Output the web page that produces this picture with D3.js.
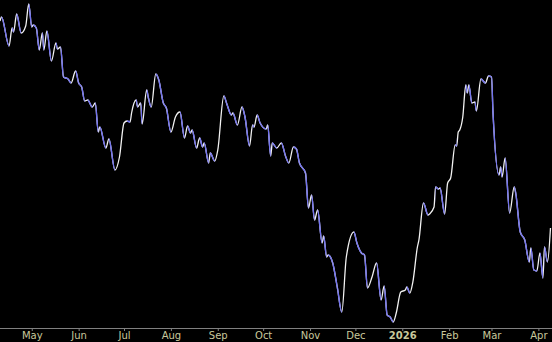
<!DOCTYPE html>
<meta charset="utf-8">
<style>
  body { margin: 0; background: #000; }
  svg { display: block; }
  .tick text { font: 10px "DejaVu Sans", sans-serif; fill: #c8c89c; }
  .tick text.year { font-weight: bold; }
</style>
<body>
<script src="https://cdn.jsdelivr.net/npm/d3@7"></script>
<script>
var dates = ["2025-04-10","2025-04-11","2025-04-16","2025-04-18","2025-04-19","2025-04-21","2025-04-24","2025-04-27","2025-04-29",
  "2025-05-01","2025-05-02","2025-05-04","2025-05-06","2025-05-08","2025-05-09","2025-05-11","2025-05-14","2025-05-17","2025-05-18","2025-05-20","2025-05-22","2025-05-25","2025-05-27","2025-05-30",
  "2025-06-01","2025-06-03","2025-06-05","2025-06-07","2025-06-10","2025-06-12","2025-06-14","2025-06-15","2025-06-19","2025-06-21","2025-06-25","2025-06-28",
  "2025-07-01","2025-07-03","2025-07-05","2025-07-06","2025-07-09","2025-07-10","2025-07-12","2025-07-13","2025-07-16","2025-07-17","2025-07-19","2025-07-22","2025-07-24","2025-07-27","2025-07-29",
  "2025-08-01","2025-08-04","2025-08-07","2025-08-10","2025-08-12","2025-08-14","2025-08-15","2025-08-18","2025-08-20","2025-08-22","2025-08-23","2025-08-26","2025-08-27","2025-08-30",
  "2025-09-01","2025-09-05","2025-09-07","2025-09-10","2025-09-11","2025-09-14","2025-09-17","2025-09-19","2025-09-22","2025-09-24","2025-09-25","2025-09-27","2025-09-29",
  "2025-10-03","2025-10-04","2025-10-06","2025-10-07","2025-10-10","2025-10-13","2025-10-16","2025-10-18","2025-10-21","2025-10-23","2025-10-25","2025-10-29","2025-10-31",
  "2025-11-02","2025-11-04","2025-11-06","2025-11-09","2025-11-10","2025-11-12","2025-11-13","2025-11-16","2025-11-19","2025-11-22","2025-11-25","2025-11-30",
  "2025-12-02","2025-12-05","2025-12-07","2025-12-09","2025-12-12","2025-12-15","2025-12-18","2025-12-20","2025-12-22","2025-12-24","2025-12-26","2025-12-28","2025-12-31",
  "2026-01-03","2026-01-04","2026-01-06","2026-01-08","2026-01-11","2026-01-12","2026-01-15","2026-01-18","2026-01-19","2026-01-22","2026-01-23","2026-01-25","2026-01-26","2026-01-29","2026-01-31",
  "2026-02-02","2026-02-05","2026-02-06","2026-02-07","2026-02-08","2026-02-10","2026-02-12","2026-02-13","2026-02-14","2026-02-16","2026-02-18","2026-02-19","2026-02-22","2026-02-25","2026-02-27",
  "2026-03-01","2026-03-02","2026-03-06","2026-03-07","2026-03-08","2026-03-10","2026-03-13","2026-03-16","2026-03-17","2026-03-20","2026-03-23","2026-03-26","2026-03-27","2026-03-29","2026-03-31",
  "2026-04-02","2026-04-04","2026-04-05","2026-04-07","2026-04-09"];

var values = [50.9,51.3,48.4,50.2,49.8,51.6,49.7,50.4,52.6,
  50.3,50.5,50.2,48.0,49.7,48.0,49.9,46.9,48.7,48.1,48.3,45.3,45.1,44.7,45.9,
  44.7,44.3,42.9,43.0,42.3,42.7,39.8,40.3,38.2,39.1,36.0,37.3,
  40.7,40.9,40.8,41.7,43.0,42.3,42.7,40.6,44.0,43.3,42.3,45.6,45.0,42.7,42.2,
  39.8,41.3,41.8,39.2,40.4,39.7,40.0,38.2,39.2,38.3,38.7,36.7,37.7,36.9,
  38.0,43.4,42.6,41.5,41.7,40.5,42.3,41.3,38.4,40.5,40.3,41.5,40.7,
  40.1,40.5,37.4,38.7,38.2,38.7,37.3,36.7,38.3,38.1,36.7,35.7,32.2,
  33.5,31.0,32.0,28.7,29.4,27.3,27.5,26.7,24.3,21.8,27.3,29.8,
  28.7,27.7,27.5,24.2,25.3,26.7,23.0,24.4,21.5,21.3,20.8,21.7,23.8,
  24.0,24.3,23.7,24.8,28.3,29.0,32.7,31.5,31.6,32.3,34.3,34.1,34.2,31.6,34.7,
  35.2,38.5,38.4,39.8,40.0,41.3,44.5,43.7,44.5,42.7,42.8,41.9,45.1,44.7,45.4,
  45.3,41.7,35.5,36.3,35.3,37.2,31.7,34.3,33.7,29.8,29.0,26.8,28.2,26.0,25.9,
  27.7,25.2,28.3,26.8,30.2];

var monthTicks = ["2025-05-01","2025-06-01","2025-07-01","2025-08-01","2025-09-01","2025-10-01","2025-11-01","2025-12-01","2026-01-01","2026-02-01","2026-03-01","2026-04-01"];
var tickLabels = ["May","Jun","Jul","Aug","Sep","Oct","Nov","Dec","2026","Feb","Mar","Apr"];

var width = 552, height = 342, axisY = 328;
var parse = d3.utcParse("%Y-%m-%d");

var data = dates.map(function(d, i) { return { date: parse(d), value: values[i] }; });

var x = d3.scaleUtc()
  .domain([parse("2025-04-10"), parse("2026-04-10")])
  .range([0, width]);

var y = d3.scaleLinear()
  .domain([20, 53])
  .range([330, 0]);

var svg = d3.select("body").append("svg")
  .attr("width", width)
  .attr("height", height)
  .style("background", "#000");

var line = d3.line()
  .x(function(d) { return x(d.date); })
  .y(function(d) { return y(d.value); })
  .curve(d3.curveMonotoneX);

// clip for falling segments
var clip = svg.append("defs").append("clipPath").attr("id", "down");
clip.selectAll("rect")
  .data(d3.pairs(data).filter(function(p) { return p[1].value < p[0].value; }))
  .enter().append("rect")
  .attr("x", function(p) { return x(p[0].date); })
  .attr("width", function(p) { return x(p[1].date) - x(p[0].date); })
  .attr("y", 0)
  .attr("height", axisY);

svg.append("path")
  .datum(data)
  .attr("fill", "none")
  .attr("stroke", "#f2f2f2")
  .attr("stroke-width", 1.3)
  .attr("d", line);

svg.append("path")
  .datum(data)
  .attr("fill", "none")
  .attr("stroke", "#7272ee")
  .attr("stroke-width", 1.4)
  .attr("clip-path", "url(#down)")
  .attr("d", line);

var axis = d3.axisBottom(x)
  .tickValues(monthTicks.map(parse))
  .tickSize(3)
  .tickPadding(1)
  .tickFormat(function(d, i) { return tickLabels[i]; });

var gx = svg.append("g")
  .attr("transform", "translate(0," + axisY + ")")
  .call(axis);

gx.select(".domain").attr("stroke", "#808080").attr("d", "M0,0.5H" + width);
gx.selectAll(".tick line").attr("stroke", "#808080");
gx.selectAll(".tick text")
  .attr("fill", null)
  .classed("year", function(d, i) { return tickLabels[i] === "2026"; });
</script>
</body>
